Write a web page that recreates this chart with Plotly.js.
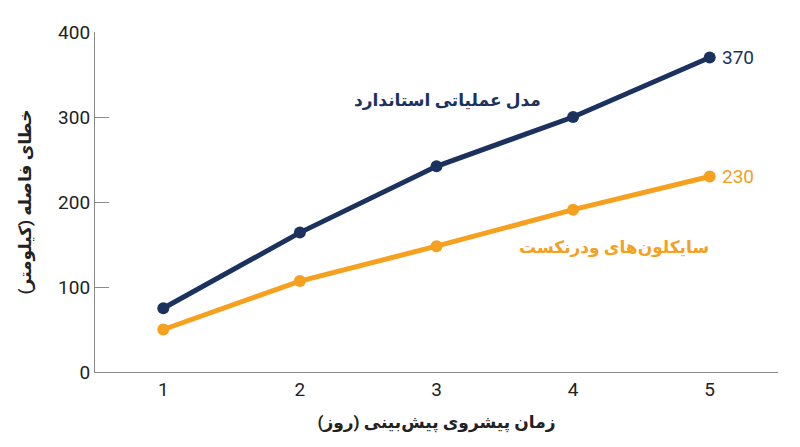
<html>
	<head>
		<meta charset="utf-8" />
		<title>خطای فاصله</title>
		<script src="https://cdn.plot.ly/plotly-3.0.1.min.js"></script>
	</head>
	<body style="margin:0">

	  <div id="myDiv" style="width:800px;height:447px"></div>

		<script>

const days = [1, 2, 3, 4, 5];
const standardModel = [75, 164, 242, 300, 370];
const weathernext = [50, 107, 148, 191, 230];

const navy = '#1b325e';
const orange = '#f5a01e';
const font = 'Roboto, "DejaVu Sans", sans-serif';

var trace1 = {
  x: days,
  y: standardModel,
  mode: 'lines+markers',
  type: 'scatter',
  name: 'مدل عملیاتی استاندارد',
  line: { color: navy, width: 5 },
  marker: { color: navy, size: 12 }
};

var trace2 = {
  x: days,
  y: weathernext,
  mode: 'lines+markers',
  type: 'scatter',
  name: 'سایکلون‌های ودرنکست',
  line: { color: orange, width: 5 },
  marker: { color: orange, size: 12 }
};

var last = days.length - 1;

var layout = {
  width: 800,
  height: 447,
  margin: { l: 95, r: 22, t: 32, b: 75 },
  showlegend: false,
  paper_bgcolor: 'white',
  plot_bgcolor: 'white',
  font: { family: font, size: 19, color: '#222' },
  xaxis: {
    range: [0.5, 5.5],
    tickvals: days,
    showgrid: false,
    zeroline: false,
    showline: true,
    linecolor: '#8a8a8a',
    linewidth: 1.2,
    ticks: '',
    title: { text: '<b>زمان پیشروی پیش‌بینی (روز)</b>', font: { size: 17, color: '#222' }, standoff: 16 }
  },
  yaxis: {
    range: [0, 400],
    tickvals: [0, 100, 200, 300, 400],
    showgrid: false,
    zeroline: false,
    showline: true,
    linecolor: '#8a8a8a',
    linewidth: 1.2,
    ticks: 'inside',
    ticklen: 14,
    tickcolor: '#8a8a8a',
    tickwidth: 1.2,
    title: { text: '<b>خطای فاصله (کیلومتر)</b>', font: { size: 17, color: '#222' }, standoff: 22 }
  },
  annotations: [
    {
      x: days[last], y: standardModel[last], text: String(standardModel[last]),
      showarrow: false, xanchor: 'left', xshift: 10,
      font: { size: 19, color: navy }
    },
    {
      x: days[last], y: weathernext[last], text: String(weathernext[last]),
      showarrow: false, xanchor: 'left', xshift: 10,
      font: { size: 19, color: orange }
    },
    {
      x: 3.08, y: 320, text: '<b>مدل عملیاتی استاندارد</b>',
      showarrow: false, font: { size: 17, color: navy }
    },
    {
      x: 4.3, y: 147, text: '<b>سایکلون‌های ودرنکست</b>',
      showarrow: false, font: { size: 17, color: orange }
    }
  ]
};

Plotly.newPlot('myDiv', [trace1, trace2], layout, { displayModeBar: false });

		</script>

	</body>
</html>
